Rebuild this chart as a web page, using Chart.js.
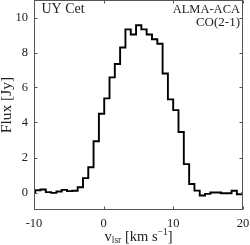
<!DOCTYPE html>
<html>
<head>
<meta charset="utf-8">
<script src="https://cdn.jsdelivr.net/npm/chart.js@4"></script>
<style>
  html, body { margin: 0; padding: 0; background: #fff; }
</style>
</head>
<body>
<canvas id="espectro" width="250" height="245"></canvas>
<script>
const velocidad = [-10.21, -9.45, -8.69, -7.92, -7.16, -6.40, -5.64, -4.88, -4.11, -3.35,
  -2.59, -1.83, -1.07, -0.30, 0.46, 1.22, 1.98, 2.74, 3.51, 4.27,
  5.03, 5.79, 6.55, 7.32, 8.08, 8.84, 9.60, 10.36, 11.12, 11.89,
  12.65, 13.41, 14.17, 14.93, 15.70, 16.46, 17.22, 17.98, 18.74, 19.50, 20.27]
const flujo = [0.00, 0.13, 0.17, 0.02, -0.02, 0.06, 0.15, 0.08, 0.10, 0.30,
  0.82, 1.44, 2.93, 4.50, 5.38, 6.58, 7.34, 8.29, 9.32, 9.03,
  9.56, 9.32, 9.03, 8.76, 8.50, 6.80, 5.32, 4.71, 3.46, 1.62,
  0.49, 0.11, -0.17, -0.08, 0.00, 0.00, -0.04, -0.04, 0.10, -0.10, -0.04]
const ticksX = [-10, 0, 10, 20]
const ticksY = [0, 2, 4, 6, 8, 10]

const fuente = "'Liberation Serif', 'DejaVu Serif', serif"
const tinta = "#222"

// caja, marcas hacia dentro, rotulos y titulo del eje x
const marco = {
  id: "marco",
  afterDraw(chart) {
    const c = chart.ctx
    const a = chart.chartArea
    const sx = chart.scales.x, sy = chart.scales.y
    const L = Math.round(a.left) + 0.5, R = Math.round(a.right) - 0.5
    const T = Math.round(a.top) + 0.5, B = Math.round(a.bottom) - 0.5
    c.save()
    c.strokeStyle = "#555"
    c.lineWidth = 1
    c.strokeRect(L, T, R - L, B - T)
    c.beginPath()
    ticksX.forEach(v => {
      const px = Math.round(sx.getPixelForValue(v)) + 0.5
      c.moveTo(px, B); c.lineTo(px, B - 3)
      c.moveTo(px, T); c.lineTo(px, T + 3)
    })
    ticksY.forEach(v => {
      const py = Math.round(sy.getPixelForValue(v)) + 0.5
      c.moveTo(L, py); c.lineTo(L + 3, py)
      c.moveTo(R, py); c.lineTo(R - 3, py)
    })
    c.stroke()

    c.fillStyle = tinta
    c.textBaseline = "alphabetic"
    c.textAlign = "left"
    c.font = "14px " + fuente
    c.fillText("UY Cet", a.left + 7.5, 13)
    c.textAlign = "right"
    c.font = "12.5px " + fuente
    c.fillText("ALMA-ACA", a.right - 3, 13)
    c.font = "13px " + fuente
    c.fillText("CO(2-1)", a.right - 3, 25.5)

    // v_lsr [km s^-1]
    const partes = [
      { t: "v", f: 14.5, dy: 0 },
      { t: "lsr", f: 9.5, dy: 2.5 },
      { t: " [km s", f: 14.5, dy: 0 },
      { t: "\u22121", f: 9.5, dy: -5.5 },
      { t: "]", f: 14.5, dy: 0 }
    ]
    let ancho = 0
    partes.forEach(p => { c.font = p.f + "px " + fuente; p.w = c.measureText(p.t).width; ancho += p.w })
    let x = (a.left + a.right) / 2 - ancho / 2
    c.textAlign = "left"
    partes.forEach(p => {
      c.font = p.f + "px " + fuente
      c.fillText(p.t, x, 240.5 + p.dy)
      x += p.w
    })
    c.restore()
  }
}

const ctx = document.getElementById("espectro").getContext("2d")
const grafico = new Chart(ctx, {
  type: "line",
  data: {
    datasets: [{
      data: velocidad.map((v, i) => ({ x: v, y: flujo[i] })),
      stepped: "middle",
      borderColor: "#000",
      borderWidth: 1.9,
      pointRadius: 0,
      fill: false,
      clip: 0
    }]
  },
  options: {
    responsive: false,
    animation: false,
    layout: { padding: { left: 0, right: 7, top: 0, bottom: 0 } },
    plugins: { legend: { display: false }, tooltip: { enabled: false } },
    scales: {
      x: {
        type: "linear",
        min: -10,
        max: 20,
        afterBuildTicks: s => { s.ticks = ticksX.map(v => ({ value: v })) },
        afterFit: s => { s.height = 35; s.paddingLeft = 0; s.paddingRight = 0 },
        grid: { display: false, drawTicks: false },
        border: { display: false },
        ticks: { color: tinta, font: { family: fuente, size: 12.5 }, padding: 6, maxRotation: 0 }
      },
      y: {
        min: -1,
        max: 11,
        afterBuildTicks: s => { s.ticks = ticksY.map(v => ({ value: v })) },
        afterFit: s => { s.width = 34; s.paddingTop = 0; s.paddingBottom = 0 },
        grid: { display: false, drawTicks: false },
        border: { display: false },
        ticks: { color: tinta, font: { family: fuente, size: 12.5 }, padding: 6 },
        title: {
          display: true,
          text: "Flux [Jy]",
          color: tinta,
          font: { family: fuente, size: 15.5 },
          padding: { top: -2, bottom: 0 }
        }
      }
    }
  },
  plugins: [marco]
})
</script>
</body>
</html>
